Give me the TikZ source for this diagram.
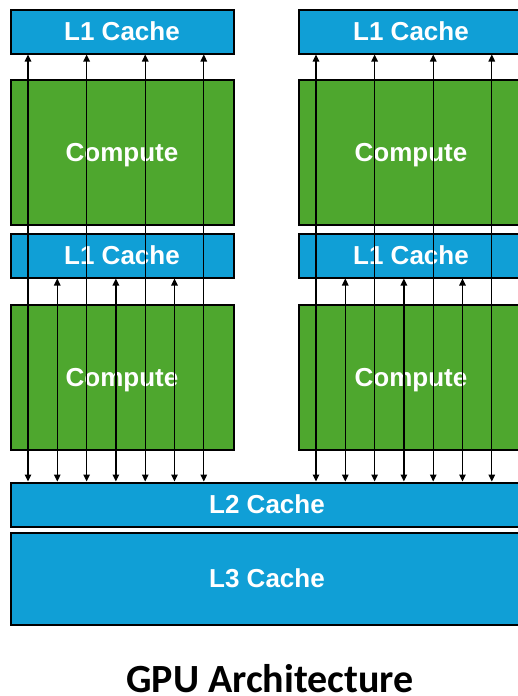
\documentclass[tikz,border=0pt]{standalone}
\usepackage{fontspec}
\setmainfont{Liberation Sans}
\newfontfamily\titlefont{Carlito}
\usetikzlibrary{positioning, arrows.meta}

\definecolor{cacheblue}{HTML}{109FD6}
\definecolor{computegreen}{HTML}{4EA72E}

\begin{document}
\begin{tikzpicture}[x=1pt, y=1pt, >={Triangle[length=7pt, width=6.5pt]},
    box/.style={draw, line width=2pt, text=white, inner sep=0pt, anchor=north west,
        text height=18.5pt, text depth=0pt, font=\fontsize{26}{30}\selectfont\bfseries},
    cache/.style={box, fill=cacheblue, minimum height=44pt},
    compute/.style={box, fill=computegreen, minimum width=223pt, minimum height=145pt},
    link/.style={<->, line width=1.3pt}]
    \useasboundingbox (0,0) rectangle (518,-696);

    % left column
    \node[cache, minimum width=223pt] (l1a) at (9.5,-8.5) {L1 Cache};
    \node[compute, below=24pt of l1a.south west, anchor=north west] (cmpa) {Compute};
    \node[cache, minimum width=223pt, below=7pt of cmpa.south west, anchor=north west] (l1b) {L1 Cache};
    \node[compute, below=25pt of l1b.south west, anchor=north west] (cmpb) {Compute};

    % right column
    \node[cache, minimum width=225pt] (l1c) at (297.5,-8.5) {L1 Cache};
    \node[compute, minimum width=225pt, below=24pt of l1c.south west, anchor=north west] (cmpc) {Compute};
    \node[cache, minimum width=225pt, below=7pt of cmpc.south west, anchor=north west] (l1d) {L1 Cache};
    \node[compute, minimum width=225pt, below=25pt of l1d.south west, anchor=north west] (cmpd) {Compute};

    % shared caches
    \node[cache, minimum width=513pt] (l2) at (9.5,-481.5) {L2 Cache};
    \node[cache, minimum width=513pt, minimum height=92pt, below=4pt of l2.south west, anchor=north west] (l3) {L3 Cache};

    % links between L2 and the L1 caches
    \foreach \top/\mid in {l1a/l1b, l1c/l1d} {
        \foreach \o in {18.5, 77.1, 135.7, 194.3}
            \draw[link] ([xshift=\o]\top.south west |- l2.north) -- ([xshift=\o]\top.south west);
        \foreach \o in {47.8, 106.4, 165}
            \draw[link] ([xshift=\o]\mid.south west |- l2.north) -- ([xshift=\o]\mid.south west);
    }

    \node[font=\titlefont\bfseries\fontsize{40}{44}\selectfont, inner sep=0pt, anchor=base] (title) at (270,-692) {GPU Architecture};
\end{tikzpicture}
\end{document}
